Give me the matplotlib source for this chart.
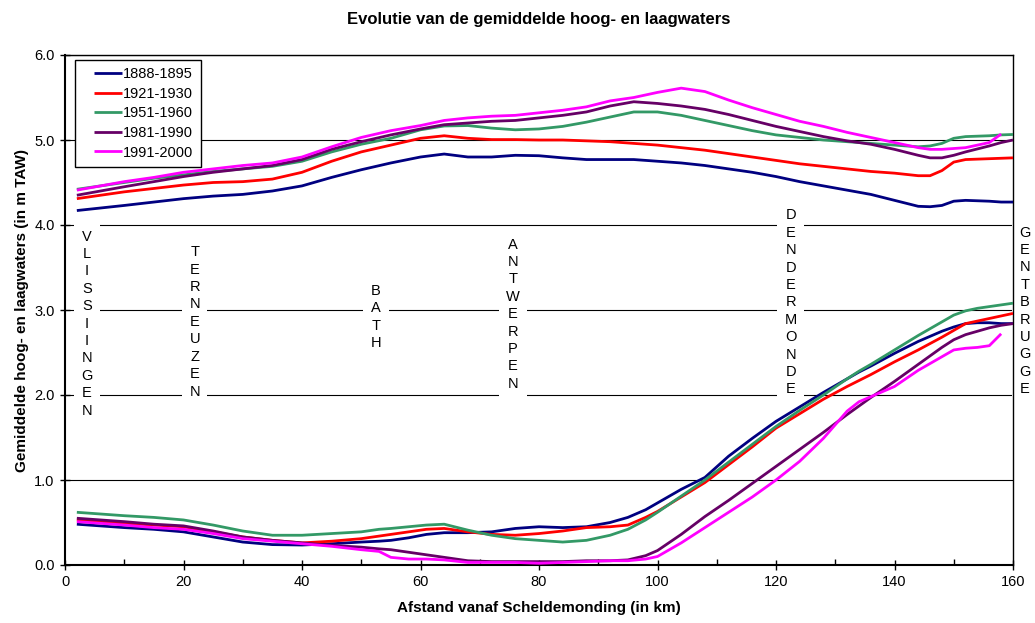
import numpy as np
import matplotlib
matplotlib.use('Agg')
import matplotlib.pyplot as plt
from matplotlib.ticker import MultipleLocator, FormatStrFormatter
from matplotlib.lines import Line2D
from matplotlib.legend_handler import HandlerLine2D

plt.rcParams['font.family'] = ['Liberation Sans', 'DejaVu Sans']

# afstand (km) voor hoogwaters
km_hw = [2, 6, 10, 15, 20, 25, 30, 35, 40, 45, 50, 55, 60, 64, 68, 72, 76, 80, 84, 88,
         92, 96, 100, 104, 108, 112, 116, 120, 124, 128, 132, 136, 140, 144, 146, 148,
         150, 152, 156, 158, 160]
hw_1888 = [4.17, 4.20, 4.23, 4.27, 4.31, 4.34, 4.36, 4.40, 4.46, 4.56, 4.65, 4.73, 4.80, 4.835,
           4.80, 4.80, 4.82, 4.815, 4.79, 4.77, 4.77, 4.77, 4.75, 4.73, 4.70, 4.66, 4.62, 4.57,
           4.51, 4.46, 4.41, 4.36, 4.29, 4.22, 4.215, 4.23, 4.28, 4.29, 4.28, 4.27, 4.27]
hw_1921 = [4.31, 4.35, 4.39, 4.43, 4.47, 4.50, 4.51, 4.54, 4.62, 4.75, 4.86, 4.94, 5.02, 5.05,
           5.02, 5.005, 5.005, 5.0, 5.0, 4.99, 4.98, 4.96, 4.94, 4.91, 4.88, 4.84, 4.80, 4.76,
           4.72, 4.69, 4.66, 4.63, 4.61, 4.58, 4.58, 4.64, 4.74, 4.77, 4.78, 4.785, 4.79]
hw_1951 = [4.42, 4.46, 4.50, 4.55, 4.59, 4.63, 4.66, 4.69, 4.75, 4.86, 4.95, 5.02, 5.12, 5.165,
           5.17, 5.14, 5.12, 5.13, 5.16, 5.21, 5.27, 5.33, 5.33, 5.29, 5.23, 5.17, 5.11, 5.06,
           5.03, 5.00, 4.98, 4.96, 4.94, 4.92, 4.93, 4.96, 5.02, 5.04, 5.05, 5.06, 5.065]
hw_1981 = [4.35, 4.40, 4.45, 4.51, 4.57, 4.62, 4.66, 4.70, 4.77, 4.89, 4.98, 5.06, 5.13, 5.18,
           5.20, 5.22, 5.23, 5.26, 5.29, 5.33, 5.40, 5.45, 5.43, 5.40, 5.36, 5.30, 5.23, 5.16,
           5.10, 5.04, 4.99, 4.95, 4.89, 4.82, 4.79, 4.79, 4.82, 4.86, 4.93, 4.97, 5.0]
hw_1991 = [4.41, 4.46, 4.51, 4.56, 4.62, 4.66, 4.70, 4.73, 4.80, 4.92, 5.03, 5.11, 5.17, 5.23,
           5.26, 5.28, 5.29, 5.32, 5.35, 5.39, 5.46, 5.50, 5.56, 5.61, 5.57, 5.47, 5.38, 5.30,
           5.22, 5.16, 5.09, 5.03, 4.97, 4.91, 4.89, 4.89, 4.90, 4.91, 4.97, 5.07, np.nan]

# afstand (km) voor laagwaters
km_lw = [2, 6, 10, 15, 20, 25, 30, 35, 40, 45, 50, 53, 55, 58, 61, 64, 68, 72, 76, 80, 84,
         88, 92, 95, 98, 100, 104, 108, 112, 116, 120, 124, 128, 132, 134, 136, 140, 144,
         148, 150, 152, 154, 156, 158, 160]
lw_1888 = [0.48, 0.46, 0.44, 0.42, 0.39, 0.33, 0.27, 0.24, 0.235, 0.25, 0.27, 0.28, 0.29, 0.32,
           0.36, 0.38, 0.38, 0.39, 0.43, 0.45, 0.44, 0.45, 0.50, 0.56, 0.65, 0.73, 0.89, 1.03,
           1.28, 1.49, 1.69, 1.86, 2.03, 2.19, 2.27, 2.34, 2.49, 2.63, 2.75, 2.80, 2.84, 2.85,
           2.85, 2.84, 2.84]
lw_1921 = [0.53, 0.51, 0.49, 0.47, 0.45, 0.39, 0.33, 0.29, 0.26, 0.28, 0.31, 0.34, 0.36, 0.39,
           0.42, 0.43, 0.39, 0.36, 0.35, 0.37, 0.40, 0.44, 0.45, 0.47, 0.56, 0.63, 0.80, 0.97,
           1.18, 1.39, 1.61, 1.78, 1.95, 2.10, 2.17, 2.24, 2.39, 2.53, 2.68, 2.76, 2.84, 2.87,
           2.90, 2.93, 2.96]
lw_1951 = [0.62, 0.60, 0.58, 0.56, 0.53, 0.47, 0.40, 0.35, 0.35, 0.37, 0.39, 0.42, 0.43, 0.45,
           0.47, 0.48, 0.41, 0.35, 0.31, 0.29, 0.27, 0.29, 0.35, 0.42, 0.53, 0.62, 0.81, 1.00,
           1.21, 1.42, 1.63, 1.82, 2.00, 2.19, 2.28, 2.36, 2.53, 2.70, 2.86, 2.94, 2.99, 3.02,
           3.04, 3.06, 3.08]
lw_1981 = [0.55, 0.53, 0.51, 0.48, 0.46, 0.40, 0.33, 0.29, 0.26, 0.23, 0.21, 0.19, 0.18, 0.15,
           0.12, 0.09, 0.05, 0.04, 0.04, 0.04, 0.04, 0.05, 0.05, 0.06, 0.11, 0.17, 0.36, 0.57,
           0.76, 0.96, 1.16, 1.36, 1.56, 1.77, 1.87, 1.97, 2.16, 2.36, 2.56, 2.65, 2.71, 2.75,
           2.79, 2.82, 2.84]
lw_1991 = [0.51, 0.49, 0.47, 0.44, 0.42, 0.37, 0.31, 0.28, 0.25, 0.22, 0.18, 0.16, 0.09, 0.07,
           0.07, 0.06, 0.03, 0.03, 0.03, 0.02, 0.03, 0.04, 0.05, 0.05, 0.07, 0.10, 0.26, 0.44,
           0.62, 0.80, 1.00, 1.22, 1.49, 1.81, 1.92, 1.98, 2.10, 2.29, 2.45, 2.53, 2.55, 2.56,
           2.58, 2.72, np.nan]

periodes = ['1888-1895', '1921-1930', '1951-1960', '1981-1990', '1991-2000']
kleuren = ['#000080', '#FF0000', '#339966', '#660066', '#FF00FF']
hoogwaters = [hw_1888, hw_1921, hw_1951, hw_1981, hw_1991]
laagwaters = [lw_1888, lw_1921, lw_1951, lw_1981, lw_1991]

# plaatsnamen langs de Schelde (km), spelling zoals in het origineel
plaatsen = ['VLISSIINGEN', 'TERNEUZEN', 'BATH', 'ANTWERPEN', 'DENDERMONDE', 'GENTBRUGGE']
plaats_km = [3.7, 21.9, 52.5, 75.6, 122.5, 162.0]
plaats_y = [2.84, 2.86, 2.92, 2.95, 3.09, 2.99]

fig = plt.figure(figsize=(10.35, 6.23), dpi=100)
ax = fig.add_axes([65/1035., 58/623., 948/1035., 510/623.])

for naam, kleur, hw, lw in zip(periodes, kleuren, hoogwaters, laagwaters):
    ax.plot(km_hw, hw, color=kleur, lw=2.0, label=naam, zorder=4, solid_capstyle='butt')
    ax.plot(km_lw, lw, color=kleur, lw=2.0, zorder=4, solid_capstyle='butt')

for naam, x, y in zip(plaatsen, plaats_km, plaats_y):
    ax.text(x, y, '\n'.join(naam), ha='center', va='center', fontsize=10.5,
            linespacing=1.31, zorder=2, clip_on=False,
            bbox=dict(boxstyle='square,pad=0.5', fc='white', ec='none'))

ax.set_xlim(0, 160)
ax.set_ylim(0, 6)
ax.xaxis.set_major_locator(MultipleLocator(20))
ax.xaxis.set_minor_locator(MultipleLocator(10))
ax.yaxis.set_major_locator(MultipleLocator(1))
ax.yaxis.set_major_formatter(FormatStrFormatter('%.1f'))
ax.tick_params(axis='both', which='major', direction='inout', length=7, width=1,
               labelsize=10.5, pad=4)
ax.tick_params(axis='x', which='minor', direction='in', length=4, width=1)
ax.yaxis.grid(True, color='black', lw=0.8, zorder=1)
ax.set_axisbelow(True)
for s in ['left', 'bottom']:
    ax.spines[s].set_linewidth(1.5)
for s in ['top', 'right']:
    ax.spines[s].set_linewidth(1.0)

ax.set_title('Evolutie van de gemiddelde hoog- en laagwaters', fontsize=12,
             fontweight='bold', pad=22)
ax.set_xlabel('Afstand vanaf Scheldemonding (in km)', fontsize=11, fontweight='bold', labelpad=8)
ax.set_ylabel('Gemiddelde hoog- en laagwaters (in m TAW)', fontsize=11, fontweight='bold',
              labelpad=4)

leg = ax.legend(loc='upper left', bbox_to_anchor=(0.0105, 0.99), fontsize=10.5,
                fancybox=False, edgecolor='black', framealpha=1, borderaxespad=0,
                handlelength=2.7, labelspacing=0.38, handletextpad=0.1, borderpad=0.5,
                handler_map={Line2D: HandlerLine2D(xpad=0.8)})
leg.get_frame().set_linewidth(1.0)

plt.savefig('out.png', dpi=100)
